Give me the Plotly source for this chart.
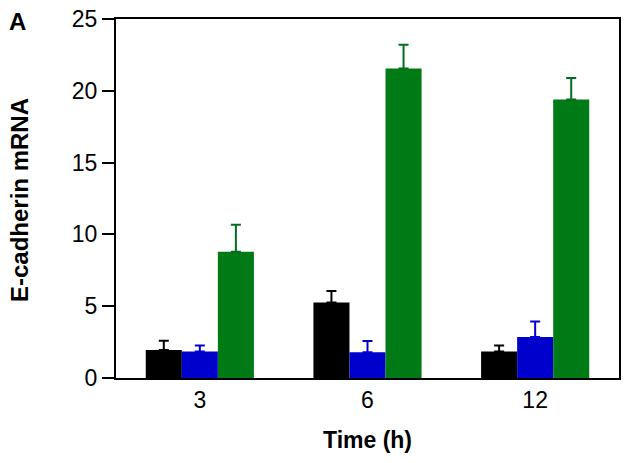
import plotly.graph_objects as go

categories = ["3", "6", "12"]
series_names = ["Control", "Treatment 1", "Treatment 2"]
black_vals = [1.95, 5.25, 1.85]
black_err = [0.65, 0.8, 0.42]
blue_vals = [1.85, 1.8, 2.85]
blue_err = [0.42, 0.78, 1.08]
green_vals = [8.8, 21.55, 19.4]
green_err = [1.88, 1.65, 1.5]
colors = ["#000000", "#0000CC", "#007A14"]
err_colors = ["#000000", "#0000CC", "#006E1E"]
y_ticks = [0, 5, 10, 15, 20, 25]

FONT = "Liberation Sans, Arial, Helvetica, sans-serif"

W, H = 629, 463
L, R, T, B = 116, 10, 19, 85
PW, PH = W - L - R, H - T - B

def px_x(x):
    return (x - L) / PW

def px_y(y):
    return (H - B - y) / PH

fig = go.Figure()
for name, vals, errs, c, ec in zip(series_names,
                                   [black_vals, blue_vals, green_vals],
                                   [black_err, blue_err, green_err],
                                   colors, err_colors):
    fig.add_trace(go.Bar(
        x=categories, y=vals, name=name,
        marker=dict(color=c, line=dict(width=0)),
        error_y=dict(type="data", array=errs, symmetric=False, arrayminus=[0]*len(errs),
                     color=ec, thickness=2, width=5, visible=True),
    ))

fig.update_layout(
    template="none",
    width=W, height=H,
    margin=dict(l=L, r=R, t=T, b=B, pad=0),
    barmode="group", bargap=0.355, bargroupgap=0,
    plot_bgcolor="white", paper_bgcolor="white",
    showlegend=False,
    font=dict(family=FONT, size=23, color="black"),
    xaxis=dict(
        type="category", range=[-0.5, 2.5], automargin=False,
        showline=True, linecolor="black", linewidth=2, mirror=True,
        ticks="", showgrid=False, zeroline=False,
        tickfont=dict(size=23),
    ),
    yaxis=dict(
        range=[0, 25], tickvals=y_ticks, automargin=False,
        showline=True, linecolor="black", linewidth=2, mirror=True,
        ticks="outside", ticklen=12, tickwidth=2, tickcolor="black",
        showgrid=False, zeroline=False,
        tickfont=dict(size=23),
    ),
    annotations=[
        dict(text="<b>E-cadherin mRNA</b>", xref="paper", yref="paper",
             x=px_x(20), y=px_y(200), xanchor="center", yanchor="middle",
             textangle=-90, showarrow=False, font=dict(size=24)),
        dict(text="<b>Time (h)</b>", xref="paper", yref="paper",
             x=px_x(367), y=px_y(440), xanchor="center", yanchor="middle",
             showarrow=False, font=dict(size=23)),
        dict(text="<b>A</b>", xref="paper", yref="paper",
             x=px_x(17), y=px_y(21), xanchor="center", yanchor="middle",
             showarrow=False, font=dict(size=24)),
    ],
)

fig.write_html(
    "out.html",
    config={"displayModeBar": False},
    post_script="document.body.style.margin='0';document.body.style.overflow='hidden';",
)
